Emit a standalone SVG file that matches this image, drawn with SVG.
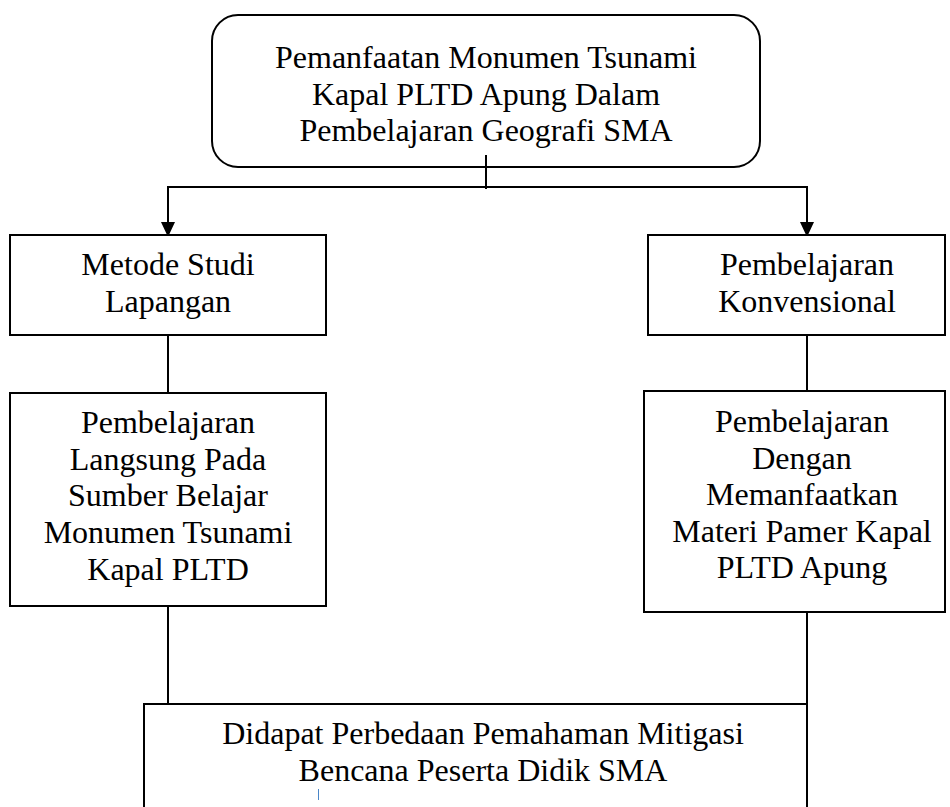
<svg xmlns="http://www.w3.org/2000/svg" width="950" height="807" viewBox="0 0 950 807">
<style>
.box{fill:#fff;stroke:#000;stroke-width:2}
.t{font-family:"Liberation Serif","Times New Roman",serif;font-size:32px;fill:#000;text-anchor:middle}
.c{stroke:#000;stroke-width:2;fill:none}
</style>
<defs>
<marker id="ah" markerUnits="userSpaceOnUse" markerWidth="16" markerHeight="16" refX="8" refY="15" orient="auto-start-reverse" viewBox="0 0 16 16">
<path d="M1,0 L15,0 L8,15 Z" fill="#000"/>
</marker>
</defs>
<rect width="950" height="807" fill="#fff"/>
<g id="connectors">
<line class="c" x1="486" y1="155" x2="486" y2="189"/>
<polyline class="c" points="168,236 168,187 807,187 807,236"/>
<line class="c" x1="168" y1="335" x2="168" y2="393"/>
<line class="c" x1="807" y1="335" x2="807" y2="391"/>
<line class="c" x1="168" y1="606" x2="168" y2="704"/>
<line class="c" x1="807" y1="612" x2="807" y2="704"/>
<path d="M161,222 L175,222 L168,237 Z" fill="#000"/>
<path d="M800,222 L814,222 L807,237 Z" fill="#000"/>
</g>
<g id="top">
<rect class="box" x="212" y="15" width="548" height="152" rx="26" fill="none" style="fill:none"/>
<text class="t" x="486" y="68">Pemanfaatan Monumen Tsunami</text>
<text class="t" x="486" y="104.5">Kapal PLTD Apung Dalam</text>
<text class="t" x="486" y="141">Pembelajaran Geografi SMA</text>
</g>
<g id="metode">
<rect class="box" x="10" y="235" width="316" height="100"/>
<text class="t" x="168" y="275">Metode Studi</text>
<text class="t" x="168" y="311.7">Lapangan</text>
</g>
<g id="konvensional">
<rect class="box" x="648" y="235" width="297" height="100"/>
<text class="t" x="807" y="275">Pembelajaran</text>
<text class="t" x="807" y="311.7">Konvensional</text>
</g>
<g id="langsung">
<rect class="box" x="10" y="393" width="316" height="213"/>
<text class="t" x="168" y="433">Pembelajaran</text>
<text class="t" x="168" y="469.7">Langsung Pada</text>
<text class="t" x="168" y="506.3">Sumber Belajar</text>
<text class="t" x="168" y="543">Monumen Tsunami</text>
<text class="t" x="168" y="579.7">Kapal PLTD</text>
</g>
<g id="materi">
<rect class="box" x="644" y="391" width="301" height="221"/>
<text class="t" x="802" y="432">Pembelajaran</text>
<text class="t" x="802" y="468.5">Dengan</text>
<text class="t" x="802" y="505">Memanfaatkan</text>
<text class="t" x="802" y="541.5">Materi Pamer Kapal</text>
<text class="t" x="802" y="578">PLTD Apung</text>
</g>
<g id="hasil">
<rect class="box" x="144" y="704" width="663" height="120"/>
<text class="t" x="483" y="744">Didapat Perbedaan Pemahaman Mitigasi</text>
<text class="t" x="483" y="780.7">Bencana Peserta Didik SMA</text>
</g>
<line x1="318.5" y1="789" x2="318.5" y2="800" stroke="#4a86c8" stroke-width="1"/>
</svg>
